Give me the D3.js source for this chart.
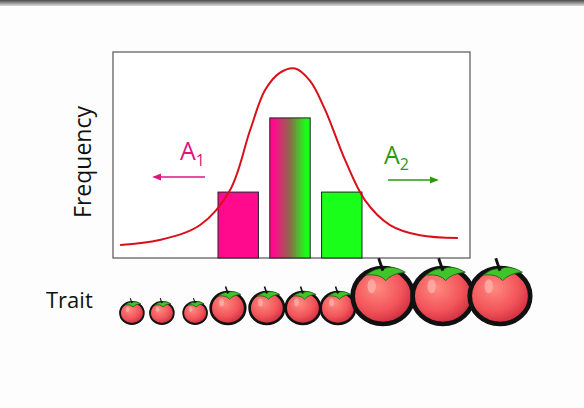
<!DOCTYPE html>
<html><head><meta charset="utf-8">
<script src="https://cdn.jsdelivr.net/npm/d3@7"></script>
<style>body{margin:0;background:#fdfdfd;}svg{display:block;font-family:"Open Sans",sans-serif;}</style>
</head><body>
<svg id="chart" width="584" height="408"></svg>
<script>
const genotypes = ["A1A1", "A1A2", "A2A2"];
const barHeights = [32, 68, 32];
const curveX = [2, 13, 24.4, 32.8, 38.4, 42.6, 46.8, 51, 55.2, 59.4, 65, 70.6, 77.6, 86, 96.6];
const curveY = [6.3, 8.7, 16, 33, 62, 81.5, 90, 92, 86, 72, 47.6, 28, 16, 11, 9.7];
const tomatoTrait = [5.3, 13.7, 23, 32.2, 43.1, 53.2, 63, 75.6, 92.4, 108.4];
const tomatoSize = [11, 11, 11, 16, 16, 16, 16, 28, 28, 28];

const svg = d3.select('#chart');
const defs = svg.append('defs');

const topShade = defs.append('linearGradient').attr('id', 'top').attr('x1', 0).attr('x2', 0).attr('y1', 0).attr('y2', 1);
topShade.append('stop').attr('offset', 0).attr('stop-color', '#4a4a4a');
topShade.append('stop').attr('offset', 1).attr('stop-color', '#dcdcdc');
svg.append('rect').attr('width', 584).attr('height', 6).attr('fill', 'url(#top)');

const mix = defs.append('linearGradient').attr('id', 'mix');
mix.append('stop').attr('offset', 0.1).attr('stop-color', '#ff0a8c');
mix.append('stop').attr('offset', 0.5).attr('stop-color', '#8c6a4a');
mix.append('stop').attr('offset', 0.9).attr('stop-color', '#1aff1a');

const tom = defs.append('radialGradient').attr('id', 'tom').attr('cx', 0.4).attr('cy', 0.35).attr('r', 0.7);
tom.append('stop').attr('offset', 0).attr('stop-color', '#ff8a80');
tom.append('stop').attr('offset', 0.6).attr('stop-color', '#f2545a');
tom.append('stop').attr('offset', 1).attr('stop-color', '#c8283a');

const x = d3.scaleLinear().domain([0, 100]).range([113, 470]);
const y = d3.scaleLinear().domain([0, 100]).range([258, 52]);
const xb = d3.scaleBand().domain(genotypes).range([218, 362]).paddingInner(0.22);

svg.append('rect').attr('x', 113).attr('y', 52).attr('width', 357).attr('height', 206)
  .attr('fill', 'white').attr('stroke', '#555').attr('stroke-width', 1.2);

const fills = ['#ff0a8c', 'url(#mix)', '#1aff1a'];
svg.selectAll('.bar').data(genotypes).join('rect')
  .attr('x', d => xb(d)).attr('width', xb.bandwidth())
  .attr('y', (d, i) => y(barHeights[i])).attr('height', (d, i) => y(0) - y(barHeights[i]))
  .attr('fill', (d, i) => fills[i]).attr('stroke', '#222').attr('stroke-width', 1);

svg.append('path').datum(curveX.map((v, i) => [v, curveY[i]]))
  .attr('d', d3.line().x(d => x(d[0])).y(d => y(d[1])).curve(d3.curveCatmullRom))
  .attr('fill', 'none').attr('stroke', '#d8101a').attr('stroke-width', 2);

function label(tx, ty, sub, color, ax1, ax2, ay) {
  const t = svg.append('text').attr('x', tx).attr('y', ty).attr('fill', color).attr('font-size', 25);
  t.append('tspan').text('A');
  t.append('tspan').text(sub).attr('font-size', 16).attr('dy', 6);
  const id = 'arr' + sub;
  defs.append('marker').attr('id', id).attr('viewBox', '0 0 10 10').attr('refX', 8).attr('refY', 5)
    .attr('markerWidth', 6).attr('markerHeight', 6).attr('orient', 'auto')
    .append('path').attr('d', 'M0,1L10,5L0,9z').attr('fill', color);
  svg.append('line').attr('x1', ax1).attr('x2', ax2).attr('y1', ay).attr('y2', ay)
    .attr('stroke', color).attr('stroke-width', 1.5).attr('marker-end', `url(#${id})`);
}
label(180, 160, '1', '#e0147f', 205, 154, 177);
label(384, 164, '2', '#2a9a12', 388, 437, 180);

svg.append('text').attr('transform', 'translate(91,162) rotate(-90)').attr('text-anchor', 'middle')
  .attr('font-size', 23).attr('fill', '#111').text('Frequency');
svg.append('text').attr('x', 46).attr('y', 308).attr('font-size', 22).attr('fill', '#111').text('Trait');

const tomatoes = svg.selectAll('.tomato').data(tomatoTrait).join('g')
  .attr('transform', (d, i) => `translate(${x(d)},${324 - tomatoSize[i]})`);
tomatoes.append('ellipse').attr('rx', (d, i) => tomatoSize[i] * 1.08).attr('ry', (d, i) => tomatoSize[i])
  .attr('fill', 'url(#tom)').attr('stroke', '#111').attr('stroke-width', (d, i) => tomatoSize[i] / 6);
tomatoes.append('ellipse').attr('cx', (d, i) => -tomatoSize[i] * 0.4).attr('cy', (d, i) => -tomatoSize[i] * 0.35)
  .attr('rx', (d, i) => tomatoSize[i] * 0.15).attr('ry', (d, i) => tomatoSize[i] * 0.25)
  .attr('fill', '#ffb0aa').attr('opacity', 0.8);
tomatoes.append('path')
  .attr('d', (d, i) => {
    const s = tomatoSize[i];
    return `M${-0.6 * s},${-0.75 * s} Q${-0.2 * s},${-1.05 * s} 0,${-0.95 * s} Q${0.3 * s},${-1.15 * s} ${0.8 * s},${-0.85 * s} Q${0.3 * s},${-0.8 * s} ${0.1 * s},${-0.55 * s} Q${-0.1 * s},${-0.8 * s} ${-0.6 * s},${-0.75 * s}Z`;
  })
  .attr('fill', '#3fc42a').attr('stroke', '#1a5a10').attr('stroke-width', 0.8);
tomatoes.append('line').attr('x1', 0).attr('x2', (d, i) => -tomatoSize[i] * 0.15)
  .attr('y1', (d, i) => -tomatoSize[i] * 0.9).attr('y2', (d, i) => -tomatoSize[i] * 1.35)
  .attr('stroke', '#111').attr('stroke-width', (d, i) => tomatoSize[i] / 10);
</script>
</body></html>
